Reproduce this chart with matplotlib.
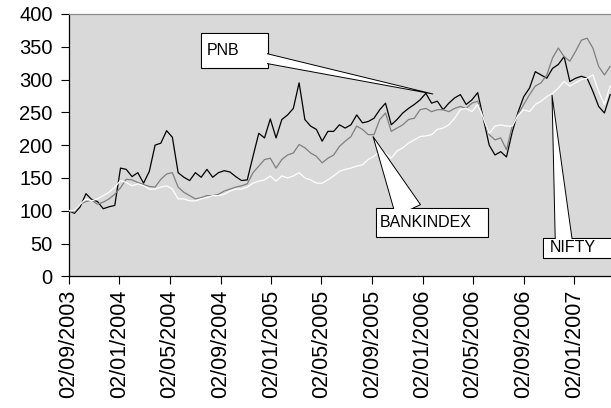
import matplotlib
matplotlib.use('Agg')
import matplotlib.pyplot as plt
import matplotlib.dates as mdates
from matplotlib.patches import Rectangle
from matplotlib.ticker import MultipleLocator
import pandas as pd

plt.rcParams['font.family'] = ['Liberation Sans', 'DejaVu Sans']

# fortnightly readings, 02/09/2003 .. end of March 2007 (base = 100)
start_date = '2003-09-02'
end_date = '2007-03-29'
pnb = [100, 96, 106, 126, 117, 114, 103, 106, 108, 165,
       163, 152, 158, 142, 160, 200, 203, 222, 212, 158,
       151, 146, 158, 151, 163, 151, 158, 161, 159, 152,
       146, 147, 183, 218, 211, 240, 211, 239, 246, 256,
       295, 239, 229, 224, 206, 221, 221, 231, 226, 231,
       246, 234, 236, 241, 254, 264, 231, 239, 249, 256,
       262, 269, 279, 264, 267, 254, 264, 272, 277, 262,
       269, 280, 240, 200, 185, 190, 182, 220, 250, 274,
       287, 312, 307, 302, 317, 323, 335, 297, 302, 305,
       302, 282, 259, 249, 277]
bankindex = [100, 98, 110, 114, 116, 110, 113, 118, 125, 135,
             148, 147, 143, 140, 137, 136, 148, 156, 158, 136,
             128, 123, 118, 120, 123, 123, 125, 130, 133, 136,
             138, 141, 158, 168, 178, 180, 165, 178, 185, 188,
             201, 196, 188, 183, 173, 180, 185, 198, 206, 213,
             229, 224, 216, 216, 239, 249, 221, 226, 231, 239,
             241, 254, 256, 251, 254, 254, 251, 256, 259, 256,
             264, 267, 241, 216, 208, 211, 193, 229, 247, 262,
             277, 290, 295, 307, 333, 348, 335, 328, 343, 360,
             363, 348, 320, 307, 320]
nifty = [100, 100, 110, 118, 115, 118, 123, 128, 136, 146,
         143, 138, 141, 138, 133, 133, 136, 138, 133, 118,
         118, 115, 115, 118, 120, 123, 123, 125, 130, 133,
         133, 136, 142, 145, 147, 153, 145, 153, 150, 153,
         158, 150, 147, 142, 142, 147, 153, 160, 163, 165,
         168, 170, 178, 183, 191, 188, 180, 191, 196, 203,
         208, 213, 214, 216, 224, 226, 231, 241, 254, 256,
         251, 262, 241, 218, 229, 231, 229, 229, 245, 254,
         251, 262, 267, 274, 279, 287, 297, 290, 295, 300,
         302, 307, 282, 262, 290]

dates = pd.date_range(start_date, end_date, periods=len(pnb))

fig = plt.figure(figsize=(6.11, 4.08), dpi=100)
ax = fig.add_axes([0.1124, 0.3228, 0.8876, 0.643])
ax.set_facecolor('#d9d9d9')

ax.plot(dates, pnb, color='black', lw=0.9, zorder=3)
ax.plot(dates, bankindex, color='#7f7f7f', lw=0.9, zorder=3)
ax.plot(dates, nifty, color='white', lw=0.9, zorder=3)


def callout(label, box, text_pos, anchor, tip, tail):
    x0, y0, w, h = box
    dx, dy = 2.5 / 611, 2.5 / 408
    cx, cy = 0.8 / 611, 0.8 / 408
    frame = Rectangle((x0, y0), w, h, transform=fig.transFigure, fc='white',
                      ec='black', lw=0.8, zorder=5, clip_on=False)
    ax.add_patch(frame)
    clip = Rectangle((x0 + dx, y0 + dy), w - 2 * dx, h - 2 * dy,
                     transform=fig.transFigure)
    cover = Rectangle((x0 + cx, y0 + cy), w - 2 * cx, h - 2 * cy,
                      transform=fig.transFigure, fc='white', ec='none',
                      zorder=7, clip_on=False)
    ax.add_patch(cover)
    ax.annotate('', xy=tip, xycoords='data', xytext=anchor,
                textcoords='figure fraction', annotation_clip=False, zorder=6,
                arrowprops=dict(arrowstyle='wedge,tail_width=%.2f' % tail,
                                fc='white', ec='black', lw=0.7, patchA=clip,
                                shrinkA=0, shrinkB=0, mutation_scale=10))
    ax.text(text_pos[0], text_pos[1], label, transform=fig.transFigure,
            fontsize=11.5, ha='left', va='center', zorder=8)


callout('PNB', (0.329, 0.8333, 0.110, 0.0858), (0.3388, 0.8762),
        (0.409, 0.8652), (pd.Timestamp('2006-01-26'), 278), 0.70)
callout('BANKINDEX', (0.6154, 0.4191, 0.1833, 0.0711), (0.622, 0.4547),
        (0.677, 0.4559), (pd.Timestamp('2005-09-04'), 213), 1.96)
callout('NIFTY', (0.8892, 0.3684, 0.15, 0.049), (0.899, 0.3929),
        (0.9236, 0.3922), (pd.Timestamp('2006-11-09'), 276), 1.22)

ax.set_ylim(0, 400)
ax.set_xlim(pd.Timestamp('2003-09-02'), pd.Timestamp('2007-03-31'))
ax.yaxis.set_major_locator(MultipleLocator(50))
ax.xaxis.set_major_locator(mdates.MonthLocator(bymonth=[1, 5, 9], bymonthday=2))
ax.xaxis.set_major_formatter(mdates.DateFormatter('%d/%m/%Y'))
ax.tick_params(axis='y', length=5.5, width=0.8, pad=6, labelsize=14.5)
ax.tick_params(axis='x', length=5.5, width=0.8, pad=4, labelsize=15.5,
               labelrotation=90)

ax.spines['left'].set_color('black')
ax.spines['bottom'].set_color('black')
ax.spines['top'].set_color('#8c8c8c')
ax.spines['right'].set_visible(False)
for s in ax.spines.values():
    s.set_linewidth(0.9)

fig.savefig('out.png', dpi=100)
